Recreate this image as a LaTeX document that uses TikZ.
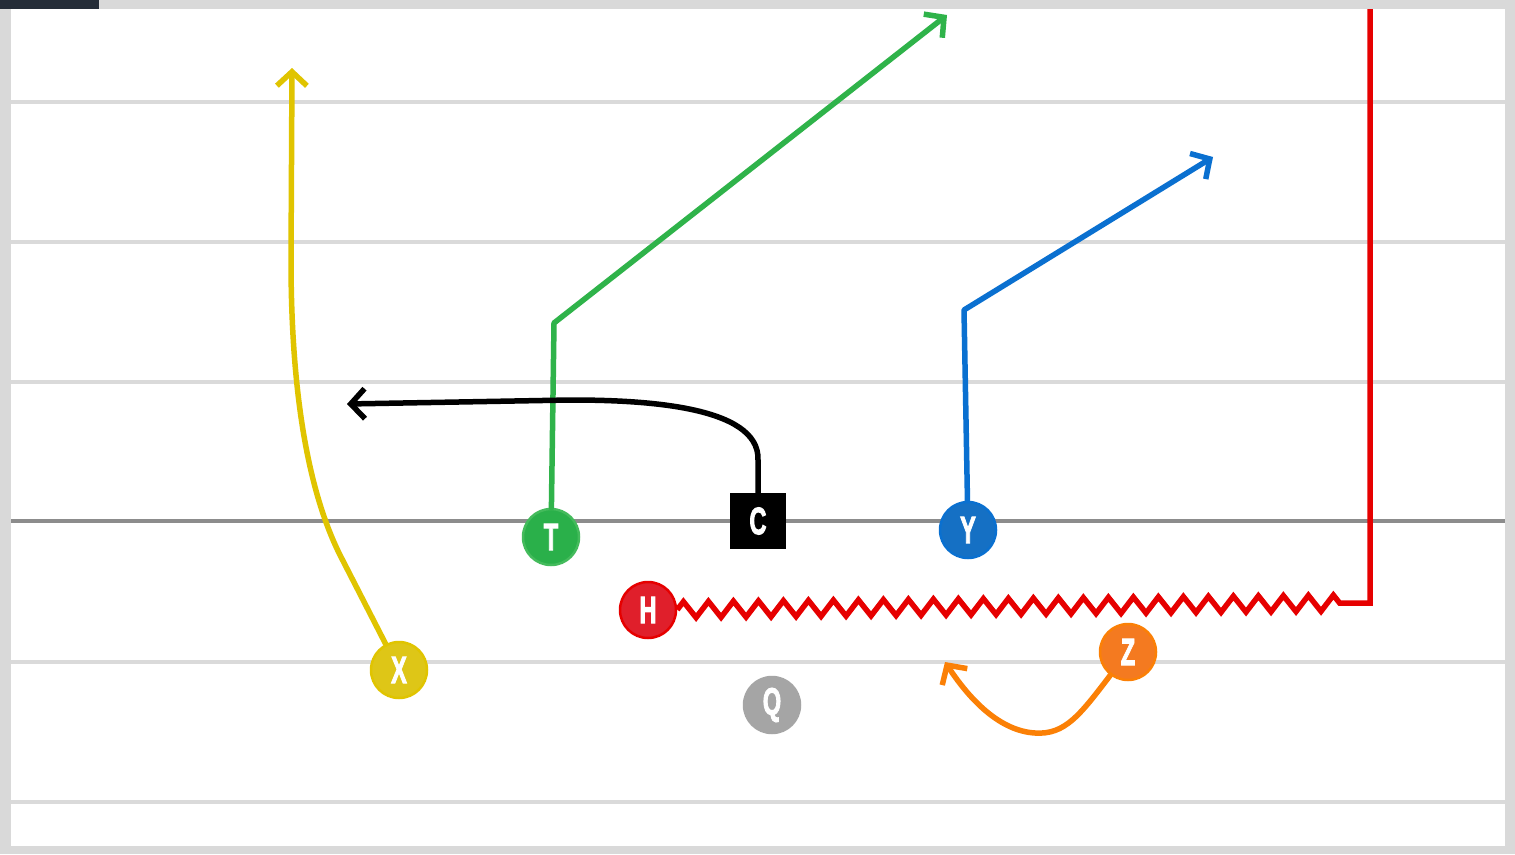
\documentclass[tikz,border=0pt]{standalone}
\usepackage{fontspec}
\setmainfont{Liberation Sans}
\newfontfamily\lblfont{Liberation Sans}[BoldFeatures={FakeBold=3}]
\usetikzlibrary{arrows.meta,decorations.pathmorphing}
\definecolor{frame}{HTML}{D9D9D9}
\definecolor{darkbar}{HTML}{252D38}
\definecolor{yardline}{HTML}{DADADA}
\definecolor{losline}{HTML}{8C8C8C}
\definecolor{cyel}{HTML}{E0C400}
\definecolor{nyel}{HTML}{DEC617}
\definecolor{cgrn}{HTML}{2FB34A}
\definecolor{ngrn}{HTML}{2AB04A}
\definecolor{cblu}{HTML}{0A70D0}
\definecolor{nblu}{HTML}{1570C4}
\definecolor{cred}{HTML}{E60000}
\definecolor{nred}{HTML}{E01F2B}
\definecolor{corg}{HTML}{FB8006}
\definecolor{norg}{HTML}{F47A20}
\definecolor{ngry}{HTML}{A5A5A5}
\newcommand\plabel[1]{\scalebox{0.62}[1]{#1}}
\tikzset{
  lbl/.style={text=white, font=\lblfont\fontsize{38}{38}\selectfont\bfseries},
  player/.style={circle, minimum size=56pt, inner sep=0pt, line width=2.5pt, lbl},
  route/.style={line width=5.5pt, line cap=round, line join=round},
  tip/.style={-{Straight Barb[length=14pt,width=30pt]}},
  yard/.style={yardline, line width=3.5pt},
}
\begin{document}
\begin{tikzpicture}[x=1pt,y=-1pt]
\useasboundingbox (0,0) rectangle (1515,854);
% frame
\fill[frame] (0,0) rectangle (1515,854);
\fill[white] (11,9) rectangle (1505,846);
\fill[darkbar] (0,0) rectangle (99,9);
% yard lines
\foreach \yy in {102,242,382,662,802} \draw[yard] (11,\yy) -- (1505,\yy);
\draw[losline, line width=3.5pt] (11,521) -- (1505,521);
% coordinates
\coordinate (xa) at (340,555);
\coordinate (xb) at (291,260);
\coordinate (xend) at (292,68);
\coordinate (ta) at (554,323);
\coordinate (tend) at (947,15);
\coordinate (ca) at (758,460);
\coordinate (cb) at (570,400);
\coordinate (cend) at (347,404);
\coordinate (ya) at (964,310);
\coordinate (yend) at (1213,157);
\coordinate (ha) at (1350,603);
\coordinate (hb) at (1370,603);
\coordinate (hend) at (1370,9);
\coordinate (za) at (1035,733);
\coordinate (zend) at (945,662);
% nodes
\node[player, fill=nyel, draw=cyel] (X) at (399,670) {\plabel{X}};
\node[player, fill=ngrn, draw=cgrn!90!white] (T) at (551,537) {\plabel{T}};
\node[fill=black, minimum size=56pt, inner sep=0pt, lbl] (C) at (758,521) {\plabel{C}};
\node[player, fill=nblu, draw=cblu] (Y) at (968,530) {\plabel{Y}};
\node[player, fill=nred, draw=cred] (H) at (648,610) {\plabel{H}};
\node[player, fill=ngry, draw=ngry] (Q) at (772,705) {\plabel{Q}};
\node[player, fill=norg, draw=corg] (Z) at (1128,652) {\plabel{Z}};
% routes
\draw[route, cyel, tip] (X) -- (xa) .. controls (310,495) and (291,400) .. (xb) -- (xend);
\draw[route, cgrn, tip] (T) -- (ta) -- (tend);
\draw[route, black, tip] (C) -- (ca) .. controls (760,405) and (640,400) .. (cb) -- (cend);
\draw[route, cblu, tip] (Y) -- (ya) -- (yend);
\draw[route, corg, tip] (Z) .. controls (1080,715) and (1065,735) .. (za) .. controls (1000,731) and (970,700) .. (zend);
\draw[route, cred, line cap=butt, line join=miter] (H) decorate[decoration={zigzag, segment length=25pt, amplitude=8pt}] {-- (ha)} -- (hb) -- (hend);
\end{tikzpicture}
\end{document}
